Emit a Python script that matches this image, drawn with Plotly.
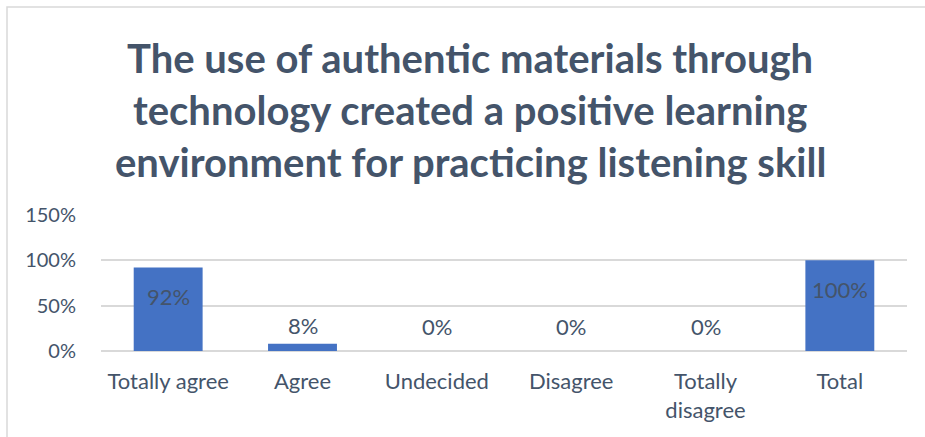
import plotly.graph_objects as go

# Survey responses (share of respondents)
categories = ["Totally agree", "Agree", "Undecided", "Disagree", "Totally disagree", "Total"]
tick_labels = ["Totally agree", "Agree", "Undecided", "Disagree", "Totally<br>disagree", "Total"]
values = [92, 8, 0, 0, 0, 100]
y_ticks = [0, 50, 100, 150]
y_tick_labels = ["0%", "50%", "100%", "150%"]

title_lines = [
    "The use of authentic materials through",
    "technology created a positive learning",
    "environment for practicing listening skill",
]

TEXT = "#44546A"
GRID = "#D9D9D9"
BAR = "#4472C4"
FONT = "Lato"

W, H = 925, 437
ML, MR, MT, MB = 101, 18, 215, 86
plot_w = W - ML - MR
plot_h = H - MT - MB


def px_to_paper_x(px):
    return (px - ML) / plot_w


def px_to_paper_y(py):
    return ((H - MB) - py) / plot_h


fig = go.Figure()
fig.add_trace(go.Bar(
    x=categories,
    y=values,
    marker=dict(color=BAR, line=dict(width=0)),
    hoverinfo="skip",
))

annotations = []

# Value labels: inside near the top for tall bars, above the bar for short ones
for c, v in zip(categories, values):
    if v >= 50:
        shift = -29
    elif v > 0:
        shift = 18
    else:
        shift = 25
    annotations.append(dict(
        x=c, y=v, xref="x", yref="y", text=f"{v}%", showarrow=False,
        yshift=shift, yanchor="middle",
        font=dict(family=FONT, size=22, color=TEXT),
    ))

# Three-line bold title, one annotation per line
for i, line in enumerate(title_lines):
    annotations.append(dict(
        x=px_to_paper_x(470), y=px_to_paper_y(58 + 52 * i),
        xref="paper", yref="paper", xanchor="center", yanchor="middle",
        text=f"<b>{line}</b>", showarrow=False,
        font=dict(family=FONT, size=40, color=TEXT),
    ))

# Light frame along the chart's left and top edges
frame = dict(
    type="rect", xref="paper", yref="paper",
    x0=px_to_paper_x(7), x1=px_to_paper_x(W + 20),
    y0=px_to_paper_y(H + 20), y1=px_to_paper_y(7),
    line=dict(color=GRID, width=1.5), fillcolor="rgba(0,0,0,0)", layer="below",
)

fig.update_layout(
    width=W, height=H,
    margin=dict(l=ML, r=MR, t=MT, b=MB, pad=0),
    paper_bgcolor="white", plot_bgcolor="white",
    showlegend=False,
    bargap=0.487,
    xaxis=dict(
        tickmode="array", tickvals=categories, ticktext=tick_labels,
        showgrid=False, showline=False, ticks="",
        tickfont=dict(family=FONT, size=22, color=TEXT),
        ticklabelstandoff=15,
    ),
    yaxis=dict(
        range=[0, 150], tickmode="array", tickvals=y_ticks, ticktext=y_tick_labels,
        showgrid=True, gridcolor=GRID, gridwidth=1.5,
        zeroline=True, zerolinecolor=GRID, zerolinewidth=1.5,
        showline=False, ticks="",
        tickfont=dict(family=FONT, size=20, color=TEXT),
        ticklabelstandoff=24,
    ),
    annotations=annotations,
    shapes=[frame],
)

fig.write_html("out.html")
